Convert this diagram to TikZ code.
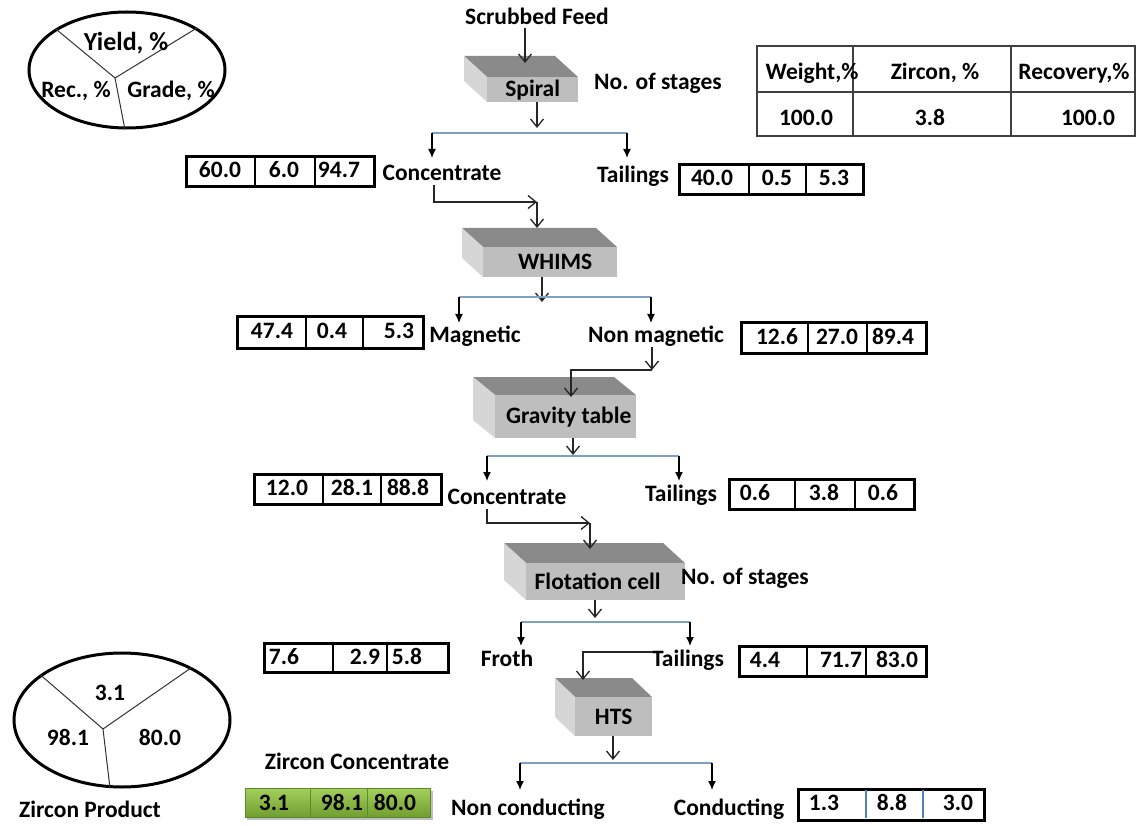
\documentclass[tikz,border=0pt]{standalone}
\usepackage{fontspec}
\setmainfont{Carlito}
\usetikzlibrary{arrows.meta,shapes.geometric}
\definecolor{topgray}{HTML}{8A8A8A}
\definecolor{sidegray}{HTML}{D6D6D6}
\definecolor{frontgray}{HTML}{BEBEBE}
\definecolor{splitblue}{HTML}{7F9FC6}
\definecolor{divblue}{HTML}{4F81BD}
\definecolor{greenlight}{HTML}{A3CF5C}
\definecolor{greendark}{HTML}{6F9E2F}
\definecolor{greenline}{HTML}{5E8A2A}
\definecolor{tablegray}{HTML}{404040}
\newcommand\procblock[8]{%
  \fill[topgray] (#2,#3) -- ({#2+#6},{#3+#7}) -- ({#4+#6},{#3+#7}) -- (#4,#3) -- cycle;
  \fill[sidegray] (#2,#3) -- ({#2+#6},{#3+#7}) -- ({#2+#6},{#5+#7}) -- (#2,#5) -- cycle;
  \node[frontbox, minimum width={#4-#2}, minimum height={#5-#3}, anchor=north west] (#1) at (#2,#3) {#8};
}
\begin{document}
\begin{tikzpicture}[x=1pt,y=-1pt,
  txt/.style={font=\fontsize{23.5}{27}\selectfont\bfseries, inner sep=0, text height=15pt, text depth=0pt},
  big/.style={txt, font=\fontsize{26}{30}\selectfont\bfseries, text height=16.5pt},
  frontbox/.style={fill=frontgray, inner sep=0, font=\fontsize{23.5}{27}\selectfont\bfseries},
  oarrow/.style={draw=black!85, line width=1.3, -{Straight Barb[length=8pt,width=13pt]}},
  farrow/.style={draw=black, line width=1.3, -{Latex[length=9pt,width=8pt]}},
  split/.style={draw=splitblue, line width=1.5},
  dbox/.style={draw=black, line width=2.8, fill=white, inner sep=0},
  divl/.style={draw=black, line width=2},
  legend/.style={draw=black, line width=3, ellipse, inner sep=0},
  thinl/.style={draw=black!80, line width=1},
  tab/.style={draw=tablegray, line width=1.3}
]
\useasboundingbox (0,0) rectangle (1138,826);
\fill[white] (0,0) rectangle (1138,826);

% ---------- legend ellipse top-left
\node[legend, minimum width=196, minimum height=116] (leg1) at (127,70) {};
\coordinate (lc1) at (115,78);
\draw[thinl] (lc1) -- (leg1.150) (lc1) -- (leg1.31) (lc1) -- (leg1.-92);
\node[big] (ly) at (126,42) {Yield, \%};
\node[txt] (lr) at (76,90) {Rec., \%};
\node[txt] (lg) at (171,90) {Grade, \%};

% ---------- table top-right
\draw[tab] (757,46) rectangle (1135,136);
\draw[tab] (757,92) -- (1135,92) (853,46) -- (853,136) (1011,46) -- (1011,136);
\node[txt] (th1) at (812,72) {Weight,\%};
\node[txt] (th2) at (935,72) {Zircon, \%};
\node[txt] (th3) at (1074,72) {Recovery,\%};
\node[txt] (tv1) at (806,118) {100.0};
\node[txt] (tv2) at (930,118) {3.8};
\node[txt] (tv3) at (1088,118) {100.0};

% ---------- feed and spiral
\node[txt] (feed) at (537,17) {Scrubbed Feed};
\procblock{spiral}{487}{77}{578}{102}{-23}{-21}{\raisebox{-2pt}{Spiral}}
\node[txt] (stages1) at (658,82) {No. of stages};
\coordinate (spin) at (525,63);
\draw[oarrow] (feed.south -| spin) ++(0,3) -- (spin);
\coordinate (sp1) at (537,128);
\draw[oarrow] (spiral.south -| sp1) -- (sp1);
\coordinate (s1l) at (432,133); \coordinate (s1r) at (627,133);
\draw[split] (s1l) -- (s1r);
\node[txt] (conc1) at (442,173) {Concentrate};
\node[txt] (tail1) at (633,175) {Tailings};
\draw[farrow] (s1l) -- (s1l |- 0,158);
\draw[farrow] (s1r) -- (s1r |- 0,158);

% boxes level 1
\node[dbox, minimum width=188, minimum height=30, anchor=north west] (b1) at (185,155) {};
\draw[divl] (255,155) -- (255,185) (315,155) -- (315,185);
\node[txt] (b1a) at (220,170) {60.0};
\node[txt] (b1b) at (284,170) {6.0};
\node[txt] (b1c) at (339,170) {94.7};
\node[dbox, minimum width=184, minimum height=30, anchor=north west] (b2) at (678,163) {};
\draw[divl] (749,163) -- (749,193) (806,163) -- (806,193);
\node[txt] (b2a) at (712,178) {40.0};
\node[txt] (b2b) at (777,178) {0.5};
\node[txt] (b2c) at (834,178) {5.3};

% ---------- WHIMS
\procblock{whims}{483}{247}{617}{277}{-21}{-19}{\hspace*{10pt}\raisebox{-5pt}{WHIMS}}
\coordinate (c1a) at (434,185);
\coordinate (c1b) at (434,202);
\coordinate (c1c) at (537,202);
\coordinate (whin) at (537,228);
\draw[oarrow] (c1a) -- (c1b) -- (c1c);
\draw[oarrow] (c1c) -- (whin);
\coordinate (wh1) at (542,302);
\draw[oarrow] (whims.south -| wh1) -- (wh1);
\coordinate (s2l) at (459,297); \coordinate (s2r) at (651,297);
\draw[split] (s2l) -- (s2r);
\draw[farrow] (s2l) -- (s2l |- 0,323);
\draw[farrow] (s2r) -- (s2r |- 0,323);
\node[txt] (mag) at (475,335) {Magnetic};
\node[txt] (nonmag) at (656,335) {Non magnetic};

\node[dbox, minimum width=186, minimum height=32, anchor=north west] (b3) at (236,315) {};
\draw[divl] (306,315) -- (306,347) (363,315) -- (363,347);
\node[txt] (b3a) at (272,331) {47.4};
\node[txt] (b3b) at (332,331) {0.4};
\node[txt] (b3c) at (399,331) {5.3};
\node[dbox, minimum width=185, minimum height=31, anchor=north west] (b4) at (740,321) {};
\draw[divl] (808,321) -- (808,352) (867,321) -- (867,352);
\node[txt] (b4a) at (777,337) {12.6};
\node[txt] (b4b) at (837,337) {27.0};
\node[txt] (b4c) at (893,337) {89.4};

% ---------- Gravity table
\procblock{grav}{495}{395}{636}{438}{-22}{-18}{\hspace*{6pt}Gravity table}
\coordinate (n1a) at (652,347);
\coordinate (n1b) at (652,370);
\coordinate (n1c) at (571,370);
\coordinate (gin) at (571,397);
\draw[oarrow] (n1a) -- (n1b);
\draw[oarrow] (n1b) -- (n1c) -- (gin);
\coordinate (gr1) at (573,455);
\draw[oarrow] (grav.south -| gr1) -- (gr1);
\coordinate (s3l) at (487,456); \coordinate (s3r) at (679,456);
\draw[split] (s3l) -- (s3r);
\draw[farrow] (s3l) -- (s3l |- 0,481);
\draw[farrow] (s3r) -- (s3r |- 0,481);
\node[txt] (conc2) at (507,497) {Concentrate};
\node[txt] (tail2) at (681,494) {Tailings};

\node[dbox, minimum width=187, minimum height=30, anchor=north west] (b5) at (253,473) {};
\draw[divl] (323,473) -- (323,503) (381,473) -- (381,503);
\node[txt] (b5a) at (287,488) {12.0};
\node[txt] (b5b) at (352,488) {28.1};
\node[txt] (b5c) at (408,488) {88.8};
\node[dbox, minimum width=185, minimum height=30, anchor=north west] (b6) at (728,478) {};
\draw[divl] (795,478) -- (795,508) (855,478) -- (855,508);
\node[txt] (b6a) at (755,493) {0.6};
\node[txt] (b6b) at (824,493) {3.8};
\node[txt] (b6c) at (883,493) {0.6};

% ---------- Flotation cell
\procblock{flot}{526}{563}{685}{600}{-22}{-20}{\hspace*{-16pt}Flotation cell}
\node[txt] (stages2) at (745,577) {No. of stages};
\coordinate (c2a) at (487,509);
\coordinate (c2b) at (487,523);
\coordinate (c2c) at (590,523);
\coordinate (fin) at (590,549);
\draw[oarrow] (c2a) -- (c2b) -- (c2c);
\draw[oarrow] (c2c) -- (fin);
\coordinate (fl1) at (595,618);
\draw[oarrow] (flot.south -| fl1) -- (fl1);
\coordinate (s4l) at (521,622); \coordinate (s4r) at (690,622);
\draw[split] (s4l) -- (s4r);
\draw[farrow] (s4l) -- (s4l |- 0,646);
\draw[farrow] (s4r) -- (s4r |- 0,646);
\node[txt] (froth) at (507,659) {Froth};
\node[txt] (tail3) at (688,659) {Tailings};

\node[dbox, minimum width=184, minimum height=29, anchor=north west] (b7) at (263,642) {};
\draw[divl] (333,642) -- (333,671) (387,642) -- (387,671);
\node[txt] (b7a) at (284,657) {7.6};
\node[txt] (b7b) at (365,657) {2.9};
\node[txt] (b7c) at (407,657) {5.8};
\node[dbox, minimum width=187, minimum height=30, anchor=north west] (b8) at (738,645) {};
\draw[divl] (807,645) -- (807,675) (866,645) -- (866,675);
\node[txt] (b8a) at (765,660) {4.4};
\node[txt] (b8b) at (841,660) {71.7};
\node[txt] (b8c) at (897,660) {83.0};

% ---------- HTS
\procblock{hts}{575}{697}{652}{736}{-20}{-19}{HTS}
\coordinate (t3b) at (583,652);
\coordinate (hin) at (583,680);
\draw[oarrow] (tail3.west |- t3b) -- (t3b) -- (hin);
\coordinate (ht1) at (613,760);
\draw[oarrow] (hts.south -| ht1) -- (ht1);
\coordinate (s5l) at (520,763); \coordinate (s5r) at (712,763);
\draw[split] (s5l) -- (s5r);
\draw[farrow] (s5l) -- (s5l |- 0,790);
\draw[farrow] (s5r) -- (s5r |- 0,790);
\node[txt] (noncond) at (528,808) {Non conducting};
\node[txt] (cond) at (729,808) {Conducting};

\node[dbox, minimum width=186, minimum height=31, anchor=north west] (b9) at (797,788) {};
\draw[draw=divblue, line width=2.5] (866,789.5) -- (866,817.5) (923,789.5) -- (923,817.5);
\node[txt] (b9a) at (824,803) {1.3};
\node[txt] (b9b) at (892,803) {8.8};
\node[txt] (b9c) at (958,803) {3.0};

% ---------- Zircon concentrate (green)
\node[txt] (zc) at (357,762) {Zircon Concentrate};
\fill[black!25] (247,791) rectangle (433,820);
\node[minimum width=185, minimum height=29, anchor=north west, inner sep=0,
      top color=greenlight, bottom color=greendark, draw=greenline, line width=0.6] (gb) at (245,788) {};
\draw[greenline, line width=1] (310,788) -- (310,817) (367,788) -- (367,817);
\node[txt] (g1) at (274,803) {3.1};
\node[txt] (g2) at (342,803) {98.1};
\node[txt] (g3) at (395,803) {80.0};

% ---------- Zircon product ellipse
\node[legend, minimum width=216, minimum height=134] (leg2) at (122,720) {};
\coordinate (lc2) at (103,729);
\draw[thinl] (lc2) -- (leg2.151) (lc2) -- (leg2.37) (lc2) -- (leg2.-100);
\node[txt] (p1) at (110,693) {3.1};
\node[txt] (p2) at (68,738) {98.1};
\node[txt] (p3) at (160,738) {80.0};
\node[txt] (zp) at (90,810) {Zircon Product};
\end{tikzpicture}
\end{document}
